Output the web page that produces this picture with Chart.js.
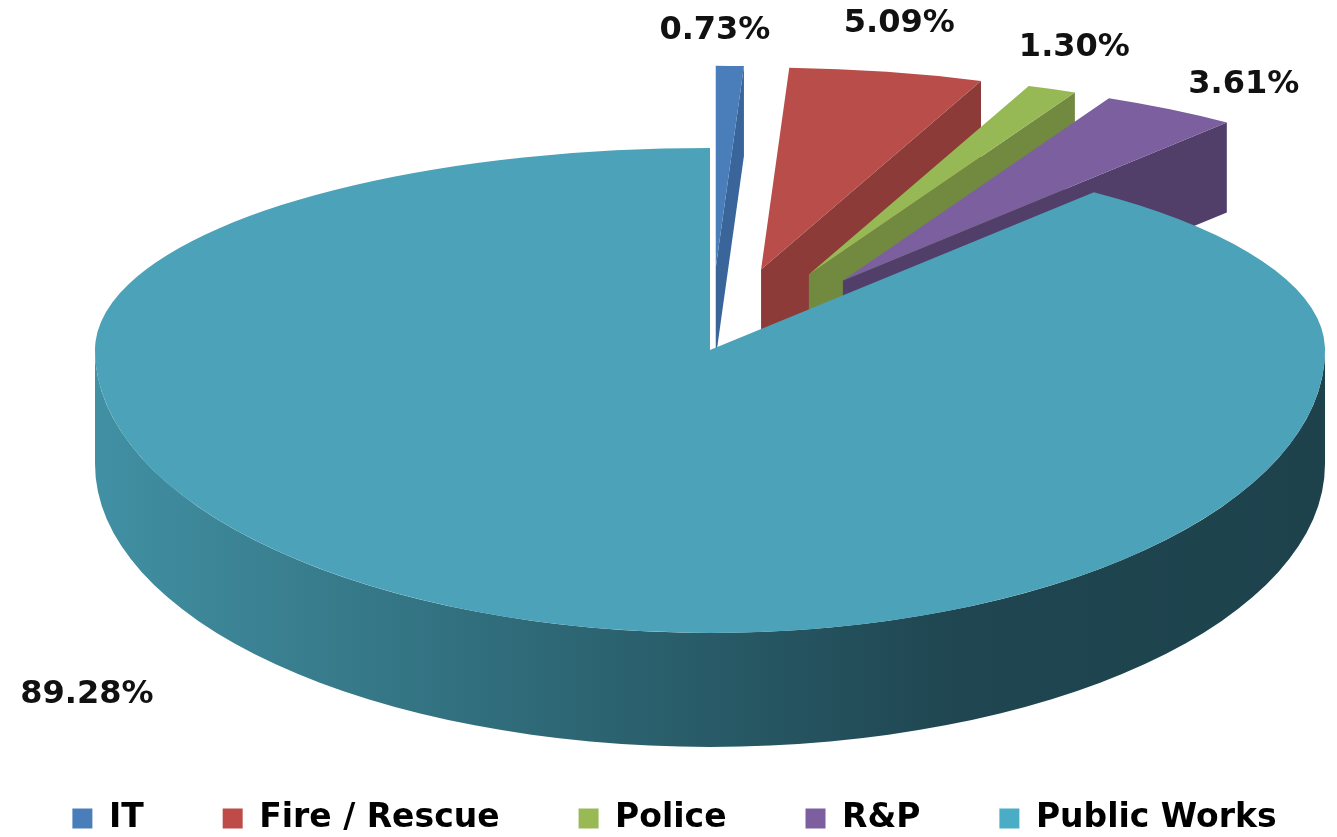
<!DOCTYPE html>
<html>
<head>
<meta charset="utf-8">
<script src="https://cdn.jsdelivr.net/npm/chart.js@4"></script>
<style>
  html, body { margin: 0; padding: 0; background: #fff; }
  canvas { display: block; }
</style>
</head>
<body>
<canvas id="grafico" width="1337" height="837"></canvas>
<script>
const departments = ["IT", "Fire / Rescue", "Police", "R&P", "Public Works"];
const shares = [0.73, 5.09, 1.30, 3.61, 89.28];

// slice styling
const topColors = ["#4a7ebb", "#b84d4a", "#97b955", "#7c5f9f", "#4ba2b9"];
const legendColors = ["#4a7ebb", "#be4b48", "#98b954", "#7d5fa0", "#4bacc6"];
const faceColors = ["#3a659a", "#8c3b39", "#718a3f", "#513f6a", "#2e6876"];
const explode = [250, 250, 250, 250, 0];
const labelNudge = [[-18, 6], [-15, -8], [-31, -4], [2, 10], [-375, 16]];

// fake 3D: flatten the pie, upper half more than lower half
const apexX = 710, apexY = 350;
const kTop = 0.3285, kBot = 0.46;
const rimDepth = 114, faceDepth = 90;
const labelGap = 135;

const ctx = document.getElementById("grafico").getContext("2d");

function project(px, py) {
    return [apexX + px, apexY + py * (py < 0 ? kTop : kBot)];
}

function drawRim(c, arc) {
    const R = arc.outerRadius;
    const grad = c.createLinearGradient(apexX - R, 0, apexX + R, 0);
    grad.addColorStop(0, "#4190a3");
    grad.addColorStop(0.37, "#2e6876");
    grad.addColorStop(0.7, "#1f4651");
    grad.addColorStop(1, "#1d424c");
    for (let k = -1; k <= 1; k++) {
        const a0 = Math.max(arc.startAngle, 2 * Math.PI * k);
        const a1 = Math.min(arc.endAngle, 2 * Math.PI * k + Math.PI);
        if (a1 <= a0) continue;
        c.beginPath();
        c.ellipse(apexX, apexY, R, R * kBot, 0, a0, a1);
        c.ellipse(apexX, apexY + rimDepth, R, R * kBot, 0, a1, a0, true);
        c.closePath();
        c.fillStyle = grad;
        c.fill();
    }
}

function drawFace(c, arc, i, angle) {
    const mid = (arc.startAngle + arc.endAngle) / 2;
    const ex = Math.cos(mid) * explode[i], ey = Math.sin(mid) * explode[i];
    const R = arc.outerRadius;
    const v = project(ex, ey);
    const o = project(ex + R * Math.cos(angle), ey + R * Math.sin(angle));
    const d = explode[i] > 0 ? faceDepth : rimDepth;
    c.beginPath();
    c.moveTo(v[0], v[1]);
    c.lineTo(o[0], o[1]);
    c.lineTo(o[0], o[1] + d);
    c.lineTo(v[0], v[1] + d);
    c.closePath();
    c.fillStyle = faceColors[i];
    c.fill();
}

function drawTops(c, chart, arcs, upper) {
    c.save();
    c.beginPath();
    if (upper) c.rect(0, 0, chart.width, apexY);
    else c.rect(0, apexY, chart.width, chart.height - apexY);
    c.clip();
    c.translate(apexX, apexY);
    c.scale(1, upper ? kTop : kBot);
    c.translate(-arcs[0].x, -arcs[0].y);
    arcs.forEach((arc, i) => {
        const mid = (arc.startAngle + arc.endAngle) / 2;
        c.save();
        c.translate(Math.cos(mid) * explode[i], Math.sin(mid) * explode[i]);
        arc.draw(c);
        c.restore();
    });
    c.restore();
}

const pie3d = {
    id: "pie3d",
    beforeDatasetsDraw(chart) {
        const c = chart.ctx;
        const arcs = chart.getDatasetMeta(0).data;

        // rim and cut faces first, top faces over them
        arcs.forEach(arc => drawRim(c, arc));
        arcs.forEach((arc, i) => {
            if (Math.cos(arc.endAngle) > 0.01) drawFace(c, arc, i, arc.endAngle);
            if (-Math.cos(arc.startAngle) > 0.01) drawFace(c, arc, i, arc.startAngle);
        });
        drawTops(c, chart, arcs, true);
        drawTops(c, chart, arcs, false);

        // percentage labels
        const size = 32;
        c.save();
        c.font = `bold ${size}px 'DejaVu Sans'`;
        c.fillStyle = "#111";
        c.textAlign = "center";
        c.textBaseline = "alphabetic";
        arcs.forEach((arc, i) => {
            const mid = (arc.startAngle + arc.endAngle) / 2;
            const r = arc.outerRadius + explode[i] + labelGap;
            const p = project(Math.cos(mid) * r, Math.sin(mid) * r);
            const text = shares[i].toFixed(2) + "%";
            c.fillText(text, p[0] + labelNudge[i][0], p[1] + labelNudge[i][1] + size * 0.36);
        });
        c.restore();
        return false;
    }
};

new Chart(ctx, {
    type: "pie",
    data: {
        labels: departments,
        datasets: [{
            data: shares,
            backgroundColor: topColors,
            borderWidth: 0
        }]
    },
    options: {
        responsive: false,
        animation: false,
        devicePixelRatio: 1,
        radius: 615,
        layout: { padding: { bottom: -8, left: -14, right: -26 } },
        plugins: {
            tooltip: { enabled: false },
            legend: {
                position: "bottom",
                labels: {
                    color: "#000",
                    boxWidth: 20,
                    boxHeight: 20,
                    padding: 79,
                    font: { family: "'DejaVu Sans'", weight: "bold", size: 33 },
                    generateLabels: () => departments.map((name, i) => ({
                        text: name,
                        fillStyle: legendColors[i],
                        strokeStyle: legendColors[i],
                        lineWidth: 0,
                        fontColor: "#000",
                        hidden: false,
                        index: i
                    }))
                }
            }
        }
    },
    plugins: [pie3d]
});
</script>
</body>
</html>
